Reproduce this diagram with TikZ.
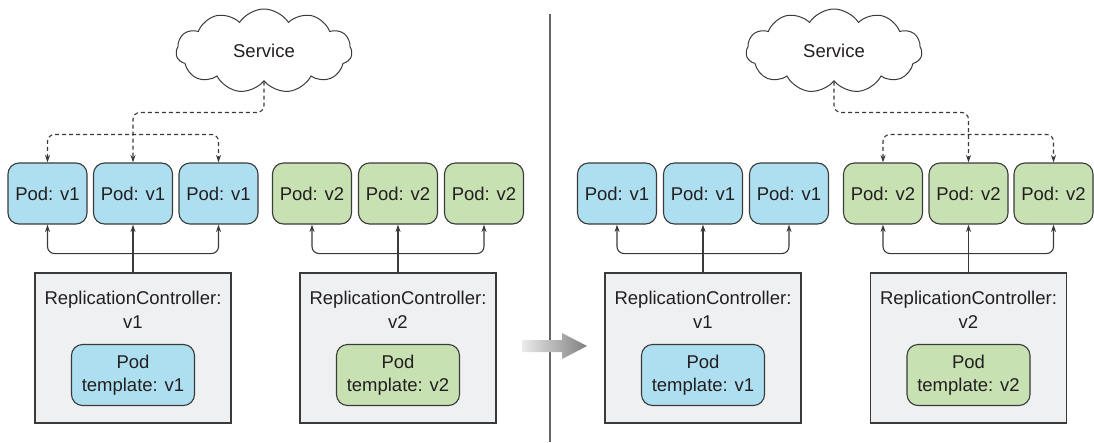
\documentclass[tikz,border=0pt]{standalone}
\usepackage{fontspec}
\setmainfont{Liberation Sans}
\usetikzlibrary{shapes.symbols,arrows.meta,calc}
\definecolor{podblue}{HTML}{ADDFF0}
\definecolor{podgreen}{HTML}{C8E1B3}
\definecolor{rcfill}{HTML}{EFF0F2}
\definecolor{edge}{HTML}{3A3A3A}
\definecolor{txt}{HTML}{231F20}
\tikzset{
  mytip/.tip={Stealth[length=7.5pt,width=5pt]},
  pod/.style={draw=edge, line width=1.1pt, rounded corners=11pt, minimum width=79pt, minimum height=61pt, inner sep=0pt, text=txt, font=\fontsize{18.5}{23.5}\selectfont},
  bluepod/.style={pod, fill=podblue},
  greenpod/.style={pod, fill=podgreen},
  tmpl/.style={pod, minimum width=123pt, align=center},
  rcbox/.style={draw=edge, line width=1.1pt, fill=rcfill, minimum width=196pt, minimum height=150pt, inner sep=0pt},
  rclabel/.style={text=txt, align=center, font=\fontsize{18.5}{24}\selectfont, inner sep=0pt},
  svc/.style={cloud, cloud puffs=11, cloud puff arc=115, aspect=2.1, draw=edge, line width=1pt, fill=white, minimum width=176pt, minimum height=84pt, inner sep=0pt, text=txt, font=\fontsize{18.5}{23}\selectfont},
  conn/.style={draw=edge, line width=1.1pt, rounded corners=7pt},
  dsh/.style={conn, dash pattern=on 4pt off 3pt}
}
\begin{document}
\begin{tikzpicture}[x=1pt,y=-1pt]
\useasboundingbox (0,0) rectangle (1094,442);
% divider
\draw[color=black!60, line width=1.6pt] (550,14) -- (550,442);
% big transition arrow
\shade[left color=black!8, right color=black!50] (522,340) -- (562,340) -- (562,333) -- (587,346) -- (562,359) -- (562,352) -- (522,352) -- cycle;

% ---------- left half ----------
\node[svc] (svcA) at (264,51) {Service};
\node[bluepod] (a1) at (47.5,193.5) {Pod: v1};
\node[bluepod] (a2) at (133,193.5) {Pod: v1};
\node[bluepod] (a3) at (218.5,193.5) {Pod: v1};
\node[greenpod] (b1) at (312,193.5) {Pod: v2};
\node[greenpod] (b2) at (398,193.5) {Pod: v2};
\node[greenpod] (b3) at (484,193.5) {Pod: v2};

\node[rcbox] (rcA) at (133,348) {};
\node[rclabel] (rcAl) at (133,310) {ReplicationController:\\v1};
\node[tmpl, fill=podblue] (tA) at (133,375) {Pod\\template: v1};
\node[rcbox] (rcB) at (398,348) {};
\node[rclabel] (rcBl) at (398,310) {ReplicationController:\\v2};
\node[tmpl, fill=podgreen] (tB) at (398,375) {Pod\\template: v2};

\draw[dsh,-mytip] (svcA.south) |- ($(a2.north)+(0,-50)$) -- (a2.north);
\draw[dsh,mytip-mytip] (a1.north) |- ($(a2.north)+(0,-28)$) -| (a3.north);

\draw[conn,-mytip] (rcA.north) -- (a2.south);
\draw[conn,mytip-mytip] (a1.south) |- ($(a2.south)+(0,29)$) -| (a3.south);
\draw[conn,-mytip] (rcB.north) -- (b2.south);
\draw[conn,mytip-mytip] (b1.south) |- ($(b2.south)+(0,29)$) -| (b3.south);

% ---------- right half ----------
\node[svc] (svcB) at (834,51) {Service};
\node[bluepod] (c1) at (617,193.5) {Pod: v1};
\node[bluepod] (c2) at (703,193.5) {Pod: v1};
\node[bluepod] (c3) at (789,193.5) {Pod: v1};
\node[greenpod] (d1) at (883,193.5) {Pod: v2};
\node[greenpod] (d2) at (968.5,193.5) {Pod: v2};
\node[greenpod] (d3) at (1053.5,193.5) {Pod: v2};

\node[rcbox] (rcC) at (703,348) {};
\node[rclabel] (rcCl) at (703,310) {ReplicationController:\\v1};
\node[tmpl, fill=podblue] (tC) at (703,375) {Pod\\template: v1};
\node[rcbox] (rcD) at (968.5,348) {};
\node[rclabel] (rcDl) at (968.5,310) {ReplicationController:\\v2};
\node[tmpl, fill=podgreen] (tD) at (968.5,375) {Pod\\template: v2};

\draw[dsh,-mytip] (svcB.south) |- ($(d2.north)+(0,-50)$) -- (d2.north);
\draw[dsh,mytip-mytip] (d1.north) |- ($(d2.north)+(0,-28)$) -| (d3.north);

\draw[conn,-mytip] (rcC.north) -- (c2.south);
\draw[conn,mytip-mytip] (c1.south) |- ($(c2.south)+(0,29)$) -| (c3.south);
\draw[conn,-mytip] (rcD.north) -- (d2.south);
\draw[conn,mytip-mytip] (d1.south) |- ($(d2.south)+(0,29)$) -| (d3.south);
\end{tikzpicture}
\end{document}
